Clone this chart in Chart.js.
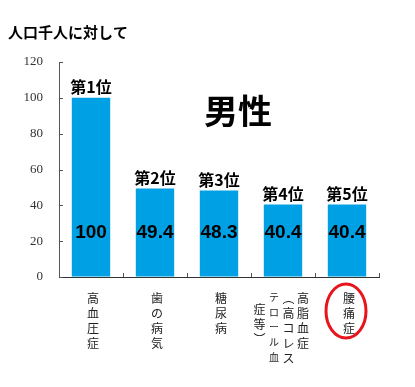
<!DOCTYPE html>
<html lang="ja">
<head>
    <meta charset="UTF-8">
    <title>人口千人に対して 男性</title>
    <script src="https://cdn.jsdelivr.net/npm/chart.js"></script>
    <style>
        html, body { margin: 0; padding: 0; background: #fff; }
        #wrap { width: 415px; height: 387px; }
    </style>
</head>
<body>
    <div id="wrap"><canvas id="chart" width="415" height="387"></canvas></div>

    <script>
        // data
        const categories = ['高血圧症', '歯の病気', '糖尿病', '高脂血症（高コレステロール血症等）', '腰痛症'];
        const values = [100, 49.4, 48.3, 40.4, 40.4];
        const ranks = ['第1位', '第2位', '第3位', '第4位', '第5位'];
        const yTicks = [0, 20, 40, 60, 80, 100, 120];
        // vertical label columns, right to left
        const labelColumns = [
            ['高血圧症'],
            ['歯の病気'],
            ['糖尿病'],
            ['高脂血症', '︵高コレス', 'テロール血', '症等︶'],
            ['腰痛症']
        ];

        const jp = '"Noto Sans CJK JP", "Liberation Sans", sans-serif';
        const barColor = '#00A0E4';

        const overlay = {
            id: 'overlay',
            afterDatasetsDraw(chart) {
                const ctx = chart.ctx;
                const meta = chart.getDatasetMeta(0);
                const x = chart.scales.x;
                const y = chart.scales.y;
                ctx.save();

                // inward tick marks
                ctx.strokeStyle = '#555';
                ctx.lineWidth = 1;
                yTicks.forEach(v => {
                    const py = Math.round(y.getPixelForValue(v)) + 0.5;
                    ctx.beginPath();
                    ctx.moveTo(x.left, py);
                    ctx.lineTo(x.left + 4, py);
                    ctx.stroke();
                });
                for (let i = 0; i <= categories.length; i++) {
                    const px = Math.round(x.getPixelForValue(i - 0.5)) + 0.5;
                    ctx.beginPath();
                    ctx.moveTo(px, y.bottom);
                    ctx.lineTo(px, y.bottom - 4);
                    ctx.stroke();
                }

                // rank labels above bars, values inside
                ctx.textAlign = 'center';
                ctx.fillStyle = '#000';
                meta.data.forEach((bar, i) => {
                    ctx.font = 'bold 16px ' + jp;
                    ctx.textBaseline = 'bottom';
                    ctx.fillText(ranks[i], bar.x, bar.y - 3);
                    ctx.font = 'bold 19px "Liberation Sans", Arial, sans-serif';
                    ctx.textBaseline = 'middle';
                    ctx.fillText(String(values[i]), bar.x, y.getPixelForValue(24.5));
                });

                // vertical category labels
                ctx.fillStyle = '#222';
                ctx.textBaseline = 'top';
                labelColumns.forEach((cols, i) => {
                    const cx = x.getPixelForValue(i);
                    const n = cols.length;
                    cols.forEach((col, j) => {
                        const colX = n === 1 ? cx + 2 : cx + 20 - j * 14.5;
                        const startY = (j === 3) ? y.bottom + 26 : y.bottom + 15;
                        // the katakana column is set smaller
                        ctx.font = (n > 1 && j === 2 ? '10px ' : '12px ') + jp;
                        [...col].forEach((ch, k) => {
                            ctx.fillText(ch, colX, startY + k * 15);
                        });
                    });
                });

                // red ring round the last label
                const rx = x.getPixelForValue(4) - 1;
                ctx.strokeStyle = '#E8141C';
                ctx.lineWidth = 3;
                ctx.beginPath();
                ctx.ellipse(rx, y.bottom + 34, 20, 27, 0, 0, Math.PI * 2);
                ctx.stroke();

                // headings
                ctx.fillStyle = '#000';
                ctx.textAlign = 'left';
                ctx.textBaseline = 'middle';
                ctx.font = 'bold 15px ' + jp;
                ctx.fillText('人口千人に対して', 8, 32);
                ctx.textAlign = 'center';
                ctx.font = 'bold 34px ' + jp;
                ctx.fillText('男性', 238, 111);

                ctx.restore();
            }
        };

        new Chart(document.getElementById('chart'), {
            type: 'bar',
            data: {
                labels: categories,
                datasets: [{
                    data: values,
                    backgroundColor: barColor,
                    barPercentage: 0.6,
                    categoryPercentage: 1
                }]
            },
            options: {
                responsive: false,
                animation: false,
                layout: { padding: { top: 62, right: 36, left: 0, bottom: 0 } },
                plugins: {
                    legend: { display: false },
                    tooltip: { enabled: false }
                },
                scales: {
                    x: {
                        grid: { display: false, drawTicks: false },
                        border: { color: '#333', width: 1 },
                        ticks: { display: false },
                        afterFit: s => { s.height = 110; }
                    },
                    y: {
                        min: 0,
                        max: 120,
                        afterBuildTicks: s => { s.ticks = yTicks.map(v => ({ value: v })); },
                        grid: { drawOnChartArea: false, drawTicks: false },
                        border: { color: '#555', width: 1 },
                        ticks: {
                            padding: 16,
                            color: '#333',
                            font: { family: '"Liberation Serif", serif', size: 13 }
                        },
                        afterFit: s => { s.width = 59; }
                    }
                }
            },
            plugins: [overlay]
        });
    </script>
</body>
</html>
